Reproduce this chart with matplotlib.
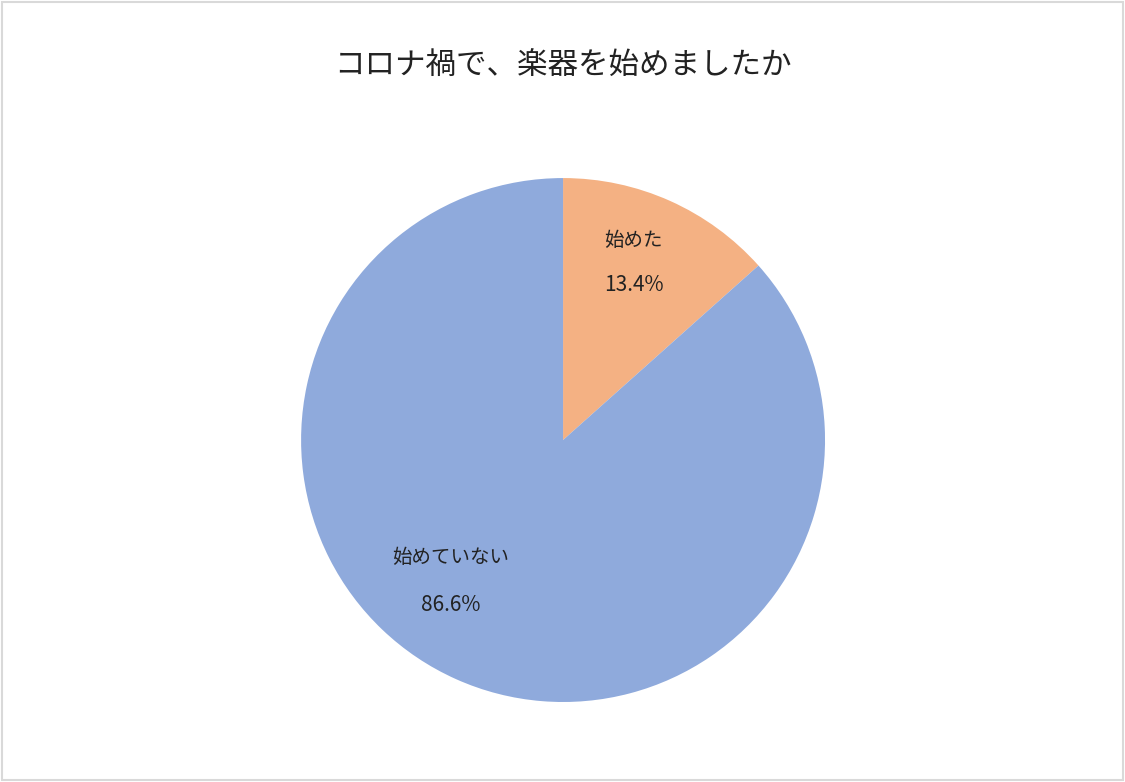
import matplotlib.pyplot as plt
from matplotlib.patches import Rectangle

plt.rcParams['font.family'] = ['Noto Sans CJK JP', 'DejaVu Sans']

title = 'コロナ禍で、楽器を始めましたか'
labels = ['始めた', '始めていない']
values = [13.4, 86.6]
colors = ['#F4B183', '#8FAADC']
# label positions in radius units, relative to the centre
label_pos = [(0.27, 0.76, 0.59), (-0.43, -0.45, -0.63)]


def main():
    fig = plt.figure(figsize=(11.25, 7.82), dpi=100)
    fig.patches.append(Rectangle((0.002, 0.003), 0.996, 0.994, transform=fig.transFigure,
                                 fill=False, edgecolor='#D9D9D9', linewidth=1.5))
    fig.text(0.5, 0.915, title, ha='center', va='center', fontsize=22, color='#222222')

    ax = fig.add_axes([0.2676, 0.1023, 0.4658, 0.670])
    ax.pie(values, colors=colors, startangle=90, counterclock=False, radius=1,
           wedgeprops=dict(linewidth=0))
    for lab, val, (x, y1, y2) in zip(labels, values, label_pos):
        ax.text(x, y1, lab, ha='center', va='center', fontsize=14, color='#222222')
        ax.text(x, y2, f'{val:.1f}%', ha='center', va='center', fontsize=15, color='#222222')
    ax.set_xlim(-1, 1)
    ax.set_ylim(-1, 1)
    ax.set_aspect('equal')
    fig.savefig('out.png', dpi=100)


if __name__ == "__main__":
    main()
